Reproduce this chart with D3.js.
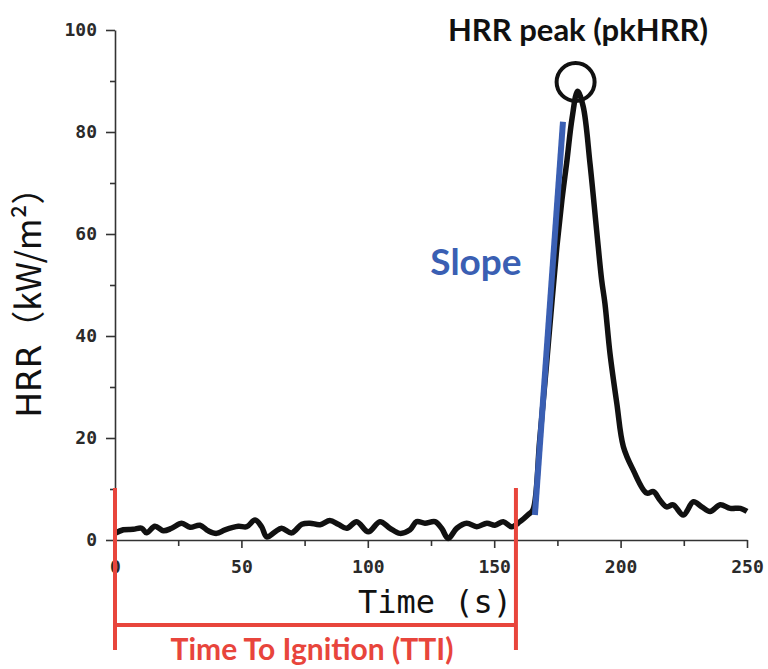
<!DOCTYPE html>
<meta charset="utf-8">
<script src="https://d3js.org/d3.v7.min.js"></script>
<style>
  body { margin: 0; background: #fff; }
</style>
<div id="chart"></div>
<script>

// time (s) and HRR (kW/m2)
var times = [0, 3.3, 7.2, 10.6, 12.5, 15.8, 19.1, 22.4, 26.4, 29.7, 33.6, 36.9, 40.2, 43.5, 48.8, 52.1,
  55.4, 58, 60, 63.3, 65.9, 69.9, 73.9, 77.1, 81.1, 85, 88.3, 91.7, 95.6, 100.2, 104.8, 108.8, 112.7,
  116.7, 119.3, 122.6, 126.6, 129.2, 131.8, 135.2, 139.1, 143.1, 147.1, 150.3, 153.6, 156.9, 160.2,
  163.5, 165.3, 168, 170.5, 172.9, 174.8, 176.8, 178.8, 180.8, 183, 185.2, 187.9, 190.5, 192.5, 193.8,
  195.8, 198.5, 201.1, 205, 210.3, 213, 215.6, 218.2, 220.8, 224.8, 228.8, 232.1, 235.4, 239.4, 243.4,
  247.4, 250];
var hrr = [1.3, 2.0, 2.1, 2.3, 1.4, 2.7, 1.8, 2.3, 3.3, 2.5, 2.9, 1.8, 1.3, 2.0, 2.7, 2.6,
  3.9, 2.6, 0.6, 1.6, 2.3, 1.4, 3.1, 3.3, 3.0, 3.8, 3.1, 2.3, 3.6, 1.6, 3.6, 2.3, 1.3,
  2.0, 3.6, 3.3, 3.6, 2.3, 0.3, 2.3, 3.3, 2.6, 3.3, 2.9, 3.6, 2.6, 3.6,
  5.0, 5.9, 19.6, 33.3, 47, 57.5, 66.7, 74.5, 82.7, 88, 85, 73.8, 60.8, 51, 46.4,
  36.6, 26.8, 18.3, 13.7, 9.2, 9.5, 7.8, 6.5, 6.9, 4.9, 7.5, 6.5, 5.6, 6.9, 6.2,
  6.2, 5.6];

var xTicks = [0, 50, 100, 150, 200, 250];
var yTicks = [0, 20, 40, 60, 80, 100];

var tti = 158.6;                 // time to ignition
var slopeStart = [166.1, 4.9];   // blue slope segment
var slopeEnd = [177.2, 82];
var peak = [182.2, 89.8];        // circled peak

var margin = {top: 30, right: 21, bottom: 129, left: 115},
    width = 768 - margin.left - margin.right,
    height = 669 - margin.top - margin.bottom;

var svg = d3.select("#chart")
  .append("svg")
  .attr("width", 768)
  .attr("height", 669)
  .append("g")
  .attr("transform", "translate(" + margin.left + "," + margin.top + ")");

var x = d3.scaleLinear().domain([0, 250]).range([0, width]);
var y = d3.scaleLinear().domain([0, 100]).range([height, 0]);

var tickFont = "'DejaVu Sans Mono', monospace";

// minor ticks first
svg.append("g")
  .attr("transform", "translate(0," + height + ")")
  .call(d3.axisBottom(x).tickValues(d3.range(25, 250, 50)).tickSize(6).tickFormat(""))
  .call(function(g) { g.select(".domain").remove(); });
svg.append("g")
  .call(d3.axisLeft(y).tickValues(d3.range(10, 100, 20)).tickSize(5).tickFormat(""))
  .call(function(g) { g.select(".domain").remove(); });

var xAxis = svg.append("g")
  .attr("transform", "translate(0," + height + ")")
  .call(d3.axisBottom(x).tickValues(xTicks).tickSize(8).tickSizeOuter(0).tickPadding(12));
var yAxis = svg.append("g")
  .call(d3.axisLeft(y).tickValues(yTicks).tickSize(9).tickSizeOuter(0).tickPadding(9));

svg.selectAll(".tick line").attr("stroke", "#333").attr("stroke-width", 1.6);
svg.selectAll(".domain").attr("stroke", "#333").attr("stroke-width", 1.6);
svg.selectAll(".tick text")
  .style("font-family", tickFont)
  .style("font-size", "18px")
  .style("font-weight", "bold")
  .attr("fill", "#2a2a2a");

// axis titles
svg.append("text")
  .attr("x", x(125) + 4)
  .attr("y", height + 73)
  .attr("text-anchor", "middle")
  .style("font-family", tickFont)
  .style("font-size", "32px")
  .attr("fill", "#111")
  .text("Time (s)");

var yl = svg.append("text")
  .attr("transform", "translate(" + (-74) + "," + (y(50) + 9) + ") rotate(-90)")
  .attr("text-anchor", "middle")
  .attr("fill", "#111")
  .style("font-size", "34px");
yl.append("tspan").style("font-family", "'DejaVu Sans', sans-serif").text("HRR");
yl.append("tspan").style("font-family", "'Noto Sans CJK SC', sans-serif").text("（kW/m²）");

// HRR curve
var points = times.map(function(t, i) { return [t, hrr[i]]; });
var line = d3.line()
  .x(function(d) { return x(d[0]); })
  .y(function(d) { return y(d[1]); })
  .curve(d3.curveCatmullRom.alpha(0.5));

svg.append("path")
  .datum(points)
  .attr("fill", "none")
  .attr("stroke", "#111")
  .attr("stroke-width", 5.5)
  .attr("stroke-linejoin", "round")
  .attr("d", line);

// slope
svg.append("line")
  .attr("x1", x(slopeStart[0])).attr("y1", y(slopeStart[1]))
  .attr("x2", x(slopeEnd[0])).attr("y2", y(slopeEnd[1]))
  .attr("stroke", "#3a5fb3")
  .attr("stroke-width", 6);

svg.append("text")
  .attr("x", 476 - margin.left)
  .attr("y", 275 - margin.top)
  .attr("text-anchor", "middle")
  .style("font-family", "Lato, sans-serif")
  .style("font-weight", "bold")
  .style("font-size", "37px")
  .attr("fill", "#3a5fb3")
  .text("Slope");

// peak marker
svg.append("circle")
  .attr("cx", x(peak[0]))
  .attr("cy", y(peak[1]))
  .attr("r", 19)
  .attr("fill", "none")
  .attr("stroke", "#111")
  .attr("stroke-width", 4);

svg.append("text")
  .attr("x", 578 - margin.left)
  .attr("y", 41 - margin.top)
  .attr("text-anchor", "middle")
  .style("font-family", "Lato, sans-serif")
  .style("font-weight", "bold")
  .style("font-size", "31px")
  .attr("fill", "#111")
  .text("HRR peak (pkHRR)");

// time to ignition bracket
var red = "#e8453c";
var br = svg.append("g").attr("stroke", red).attr("stroke-width", 4);
br.append("line").attr("x1", x(0)).attr("x2", x(0)).attr("y1", 488 - margin.top).attr("y2", 650 - margin.top);
br.append("line").attr("x1", x(tti)).attr("x2", x(tti)).attr("y1", 488 - margin.top).attr("y2", 650 - margin.top);
br.append("line").attr("x1", x(0)).attr("x2", x(tti)).attr("y1", 625 - margin.top).attr("y2", 625 - margin.top);

svg.append("text")
  .attr("x", 312 - margin.left)
  .attr("y", 660 - margin.top)
  .attr("text-anchor", "middle")
  .style("font-family", "Lato, sans-serif")
  .style("font-weight", "bold")
  .style("font-size", "30px")
  .attr("fill", red)
  .text("Time To Ignition (TTI)");

</script>
